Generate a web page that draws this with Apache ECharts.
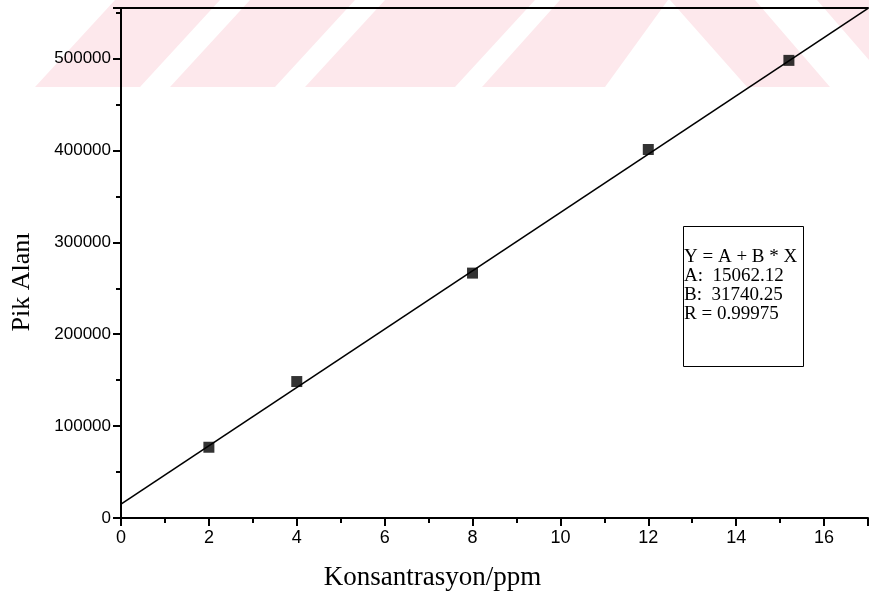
<!DOCTYPE html>
<html>
<head>
<meta charset="utf-8">
<script src="https://cdn.jsdelivr.net/npm/echarts@6/dist/echarts.min.js"></script>
<style>
  html, body { margin: 0; padding: 0; background: #fff; }
  #main { width: 869px; height: 606px; }
</style>
</head>
<body>
<div id="main"></div>
<script>
// data
var konsantrasyon = [2, 4, 8, 12, 15.2];
var pikAlani = [77000, 148500, 266500, 401000, 498000];
// linear fit Y = A + B * X
var fitA = 15062.12;
var fitB = 31740.25;
var fitX = [0, 17];
var fitLines = ['Y = A + B * X', 'A:  15062.12', 'B:  31740.25', 'R = 0.99975'];

var points = konsantrasyon.map(function (x, i) { return [x, pikAlani[i]]; });
var fitPoints = fitX.map(function (x) { return [x, fitA + fitB * x]; });

var myChart = echarts.init(document.getElementById('main'));

// pink watermark stripes at the top (decoration only)
var pink = '#fde8ec';
var stripes = [
  [[35, 87], [140, 87], [220, 0], [115, 0]],
  [[170, 87], [275, 87], [355, 0], [250, 0]],
  [[305, 87], [455, 87], [535, 0], [385, 0]],
  [[482, 87], [605, 87], [668, 0], [560, 0]],
  [[670, 0], [755, 0], [830, 87], [747, 87]],
  [[817, 0], [869, 0], [869, 60]]
];
var graphics = stripes.map(function (pts) {
  return { type: 'polygon', z: -10, silent: true, shape: { points: pts }, style: { fill: pink } };
});
graphics.push({
  type: 'rect', left: 683, top: 226, z: 10,
  shape: { width: 120, height: 140 },
  style: { fill: '#fff', stroke: '#000', lineWidth: 1 }
});
fitLines.forEach(function (t, i) {
  graphics.push({
    type: 'text', left: 684, top: 248 + i * 19, z: 11,
    style: { text: t, fill: '#000', font: '19px "Liberation Serif", serif' }
  });
});

option = {
  backgroundColor: 'transparent',
  animation: false,
  graphic: graphics,
  grid: { left: 121, right: 1, top: 8, bottom: 88 },
  xAxis: [{
    type: 'value',
    min: 0, max: 17, interval: 2,
    name: 'Konsantrasyon/ppm',
    nameLocation: 'middle',
    nameGap: 46,
    nameTextStyle: { fontFamily: 'Liberation Serif', fontSize: 27, color: '#000', padding: [0, 124, 0, 0] },
    axisLine: { onZero: false, lineStyle: { color: '#000', width: 2 } },
    axisTick: { inside: false, length: 8, lineStyle: { color: '#000', width: 2 } },
    minorTick: { show: true, splitNumber: 2, length: 5, lineStyle: { color: '#000', width: 2 } },
    axisLabel: { showMaxLabel: false, color: '#000', fontFamily: 'Liberation Sans', fontSize: 18, margin: 11 },
    splitLine: { show: false }
  }, {
    type: 'value', position: 'top',
    min: 0, max: 17,
    axisLine: { show: true, onZero: false, lineStyle: { color: '#000', width: 2 } },
    axisTick: { show: false }, axisLabel: { show: false }, splitLine: { show: false }
  }],
  yAxis: {
    type: 'value',
    min: 0, max: 555000, interval: 100000,
    name: 'Pik Alanı',
    nameLocation: 'middle',
    nameGap: 86,
    nameTextStyle: { fontFamily: 'Liberation Serif', fontSize: 26, color: '#000', padding: [0, 38, 0, 0] },
    axisLine: { show: true, onZero: false, lineStyle: { color: '#000', width: 2 } },
    axisTick: { inside: false, length: 8, lineStyle: { color: '#000', width: 2 } },
    minorTick: { show: true, splitNumber: 2, length: 5, lineStyle: { color: '#000', width: 2 } },
    axisLabel: {
      showMaxLabel: false, color: '#000', fontFamily: 'Liberation Sans', fontSize: 17, margin: 10,
      formatter: function (v) { return String(v); }
    },
    splitLine: { show: false }
  },
  series: [{
    name: 'fit',
    type: 'line',
    data: fitPoints,
    symbol: 'none',
    clip: true,
    lineStyle: { color: '#000', width: 1.6 }
  }, {
    name: 'Pik Alanı',
    type: 'scatter',
    data: points,
    symbol: 'rect',
    symbolSize: 11,
    itemStyle: { color: '#000' },
    z: 5
  }]
};
myChart.setOption(option);
</script>
</body>
</html>
